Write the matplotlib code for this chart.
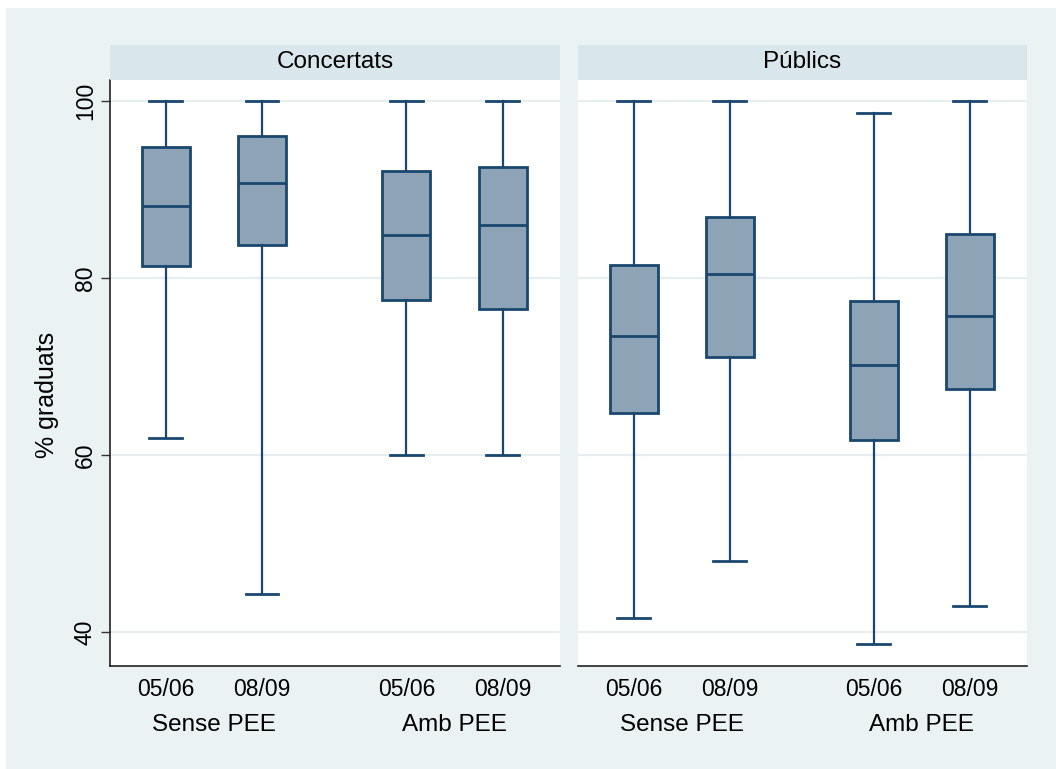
import matplotlib
matplotlib.use("Agg")
import matplotlib.pyplot as plt
from matplotlib.patches import Rectangle
from matplotlib.transforms import blended_transform_factory

plt.rcParams['font.family'] = ['Liberation Sans', 'DejaVu Sans']

# data
panels = ['Concertats', 'Públics']
groups = ['Sense PEE', 'Amb PEE']
years = ['05/06', '08/09', '05/06', '08/09']

# order: Sense 05/06, Sense 08/09, Amb 05/06, Amb 08/09
conc_whishi = [100.0, 100.0, 100.0, 100.0]
conc_q3 = [94.8, 96.0, 92.1, 92.5]
conc_med = [88.1, 90.7, 84.9, 86.0]
conc_q1 = [81.4, 83.7, 77.5, 76.5]
conc_whislo = [61.9, 44.3, 60.0, 60.0]

pub_whishi = [100.0, 100.0, 98.6, 100.0]
pub_q3 = [81.5, 86.9, 77.4, 85.0]
pub_med = [73.4, 80.4, 70.2, 75.7]
pub_q1 = [64.7, 71.1, 61.7, 67.5]
pub_whislo = [41.6, 48.0, 38.7, 42.9]

y_ticks = [40, 60, 80, 100]

# style
BG = '#EAF2F3'
STRIP = '#D9E6EB'
BOX_FILL = '#8FA3B7'
BOX_EDGE = '#1A476F'
GRID = '#E6EEF0'

W, H = 1056, 769
POS = [1, 2, 3.5, 4.5]
GROUP_X = [1.5, 4.0]


def fx(px):
    return px / W


def fy(py):
    return 1 - py / H


fig = plt.figure(figsize=(W / 100, H / 100), dpi=100, facecolor='white')
fig.patches.append(Rectangle((fx(6), 0), 1 - fx(6), fy(8), transform=fig.transFigure,
                             facecolor=BG, edgecolor='none', zorder=-10))

panel_x = [(110, 560), (578, 1027)]
top, bottom = 80, 666
strip_top = 45

data = [
    (conc_whislo, conc_q1, conc_med, conc_q3, conc_whishi),
    (pub_whislo, pub_q1, pub_med, pub_q3, pub_whishi),
]

for i, (title, (x0, x1), d) in enumerate(zip(panels, panel_x, data)):
    ax = fig.add_axes([fx(x0), fy(bottom), fx(x1 - x0), (bottom - top) / H])
    ax.set_facecolor('white')

    lo, q1, med, q3, hi = d
    stats = [dict(whislo=lo[k], q1=q1[k], med=med[k], q3=q3[k], whishi=hi[k], fliers=[])
             for k in range(len(years))]
    ax.bxp(stats, positions=POS, widths=0.5, patch_artist=True, showfliers=False,
           boxprops=dict(facecolor=BOX_FILL, edgecolor=BOX_EDGE, linewidth=2.0),
           medianprops=dict(color=BOX_EDGE, linewidth=2.0),
           whiskerprops=dict(color=BOX_EDGE, linewidth=1.6),
           capprops=dict(color=BOX_EDGE, linewidth=2.0), capwidths=0.34,
           zorder=3)

    ax.set_xlim(0.42, 5.096)
    ax.set_ylim(36.16, 102.37)
    ax.set_yticks(y_ticks)
    for y in y_ticks:
        ax.axhline(y, color=GRID, lw=1.6, zorder=1)

    ax.set_xticks(POS)
    ax.set_xticklabels(years, fontsize=16.5)
    ax.tick_params(axis='x', length=0, pad=9)

    for s in ['top', 'right']:
        ax.spines[s].set_visible(False)
    ax.spines['bottom'].set_color('#222222')
    ax.spines['bottom'].set_linewidth(1.2)

    if i == 0:
        ax.spines['left'].set_color('#222222')
        ax.spines['left'].set_linewidth(1.2)
        ax.tick_params(axis='y', length=6.5, width=1.0, color='#333333', pad=3, labelsize=16.5)
        for lab in ax.get_yticklabels():
            lab.set_rotation(90)
            lab.set_va('center')
        ax.set_ylabel('% graduats', fontsize=18)
        ax.yaxis.set_label_coords(-0.113, 0.463)
    else:
        ax.spines['left'].set_visible(False)
        ax.tick_params(axis='y', length=0, labelleft=False)

    trans = blended_transform_factory(ax.transData, ax.transAxes)
    for gx, g in zip(GROUP_X, groups):
        ax.text(gx, -0.1007, g, transform=trans, ha='center', va='center', fontsize=17.5)

    # strip header
    sax = fig.add_axes([fx(x0), fy(top), fx(x1 - x0), (top - strip_top) / H])
    sax.set_facecolor(STRIP)
    sax.set_xticks([])
    sax.set_yticks([])
    for s in sax.spines.values():
        s.set_visible(False)
    sax.text(0.5, 0.5, title, ha='center', va='center', fontsize=17.5, transform=sax.transAxes)

fig.savefig('out.png', dpi=100, facecolor='white')
